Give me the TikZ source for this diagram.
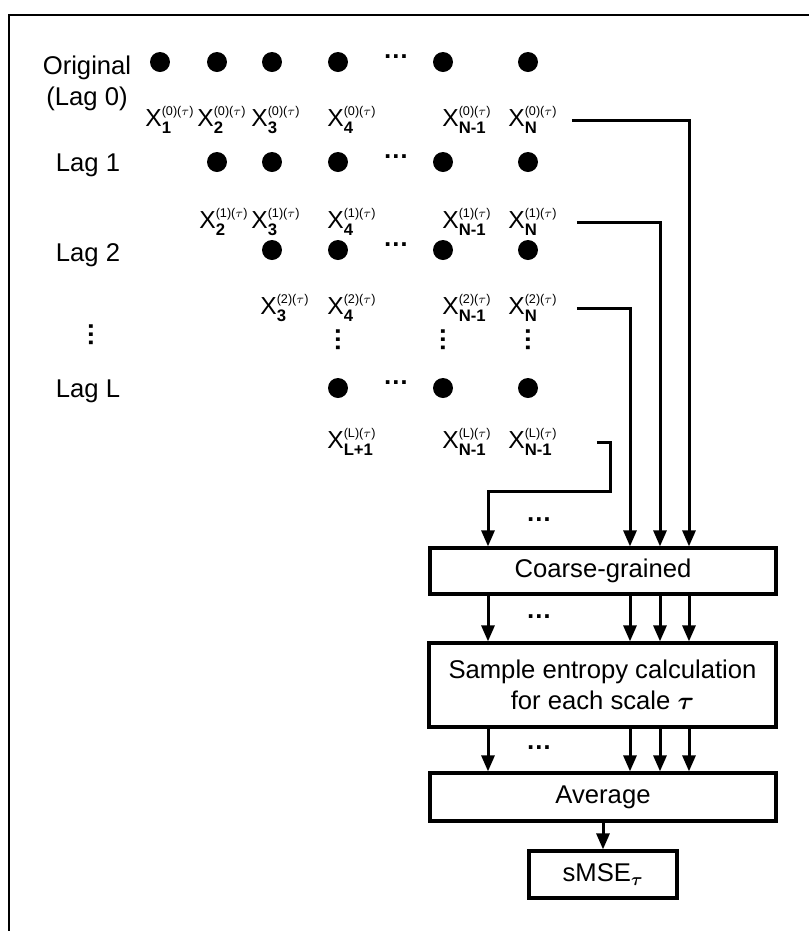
\documentclass[tikz,border=0pt]{standalone}
\usepackage{amsmath,amssymb}
\usepackage{fontspec}
\setmainfont{Liberation Sans}
\usepackage{tikz}
\usetikzlibrary{arrows.meta,calc}
% label X with lag superscript and bold index subscript
\newcommand{\xlab}[2]{X$^{\text{\fontsize{7.2}{7.2}\selectfont(#1)(\ensuremath{\tau})}}_{\text{\fontsize{9.5}{9.5}\selectfont\bfseries #2}}$}

\begin{document}
\begin{tikzpicture}[x=0.02cm, y=-0.02cm,
  font=\fontsize{14.6}{17.6}\selectfont,
  dotnode/.style={circle, fill, inner sep=0pt, minimum size=0.4cm},
  hdots/.style={font=\fontsize{14.6}{17.6}\selectfont\bfseries, inner sep=0pt},
  vdotsnode/.style={hdots, rotate=90},
  xlbl/.style={font=\fontsize{14}{16}\selectfont, anchor=west, inner sep=0pt},
  rlbl/.style={anchor=base},
  stagebox/.style={draw, line width=0.065cm, inner sep=2pt, align=center},
  conn/.style={line width=0.06cm},
  arr/.style={conn, -{Triangle[length=0.32cm, width=0.26cm]}},
]
  \useasboundingbox (0,0) rectangle (809,931);
  % --- frame ---
  \draw[line width=0.045cm] (9,931) -- (9,15) -- (809,15);
  % --- row labels ---
  \node[rlbl] (r0a) at (87,74) {Original};
  \node[rlbl] (r0b) at (87,105) {(Lag 0)};
  \node[rlbl] (r1) at (88,171) {Lag 1};
  \node[rlbl] (r2) at (88,261) {Lag 2};
  \node[vdotsnode] (rv) at (91,335) {…};
  \node[rlbl] (rL) at (88,397) {Lag L};
  % --- samples of each lagged series ---
  \foreach \r/\y/\s in {0/62/1, 1/162/2, 2/250/3, L/388/4} {
    \foreach \c in {\s,...,6} {
      \pgfmathsetmacro\xx{{160,217,272,338,443,528}[\c-1]}
      \node[dotnode] (d\r-\c) at (\xx,\y) {};
    }
    \node[hdots] (h\r) at (396,\y-5) {…};
  }
  % --- sample labels ---
  \foreach \c/\x/\sub in {1/145/1, 2/197/2, 3/251/3, 4/327/4, 5/442/N-1, 6/508/N}
    \node[xlbl] (x0-\c) at (\x,120) {\xlab{0}{\sub}};
  \foreach \c/\x/\sub in {2/199/2, 3/251/3, 4/327/4, 5/442/N-1, 6/508/N}
    \node[xlbl] (x1-\c) at (\x,222) {\xlab{1}{\sub}};
  \foreach \c/\x/\sub in {3/260/3, 4/327/4, 5/442/N-1, 6/508/N}
    \node[xlbl] (x2-\c) at (\x,308) {\xlab{2}{\sub}};
  \foreach \c/\x/\sub in {4/327/L+1, 5/442/N-1, 6/508/N-1}
    \node[xlbl] (xL-\c) at (\x,442) {\xlab{L}{\sub}};
  \foreach \x in {338,443,528}
    \node[vdotsnode] (v\x) at (\x,340) {…};
  % --- processing stages ---
  \node[stagebox, minimum width=6.92cm, minimum height=0.92cm] (cg) at (603,571) {Coarse-grained};
  \node[stagebox, minimum width=6.94cm, minimum height=1.68cm] (se) at (602.5,685)
    {Sample entropy calculation\\for each scale $\boldsymbol{\tau}$};
  \node[stagebox, minimum width=6.92cm, minimum height=0.96cm] (av) at (603,797) {Average};
  \node[stagebox, minimum width=2.96cm, minimum height=0.94cm] (sm) at (603,874.5) {sMSE$_{\boldsymbol{\tau}}$};
  % --- connectors ---
  \foreach \i/\x in {1/488, 2/630, 3/660, 4/689} \coordinate (col\i) at (\x,0);
  \coordinate (bendL) at (610,491);
  \draw[arr, shorten <=0.28cm] (x0-6.east) -| (cg.north -| col4);
  \draw[arr, shorten <=0.38cm] (x1-6.east) -| (cg.north -| col3);
  \draw[arr, shorten <=0.38cm] (x2-6.east) -| (cg.north -| col2);
  \draw[arr, shorten <=0.78cm] (xL-6.east) -| (bendL) -| (cg.north -| col1);
  \foreach \i in {1,...,4} {
    \draw[arr] (cg.south -| col\i) -- (se.north -| col\i);
    \draw[arr] (se.south -| col\i) -- (av.north -| col\i);
  }
  \draw[arr] (av) -- (sm);
  \node[hdots] (f1) at (539,520) {…};
  \node[hdots] (f2) at (539,617) {…};
  \node[hdots] (f3) at (539,748) {…};
\end{tikzpicture}
\end{document}
